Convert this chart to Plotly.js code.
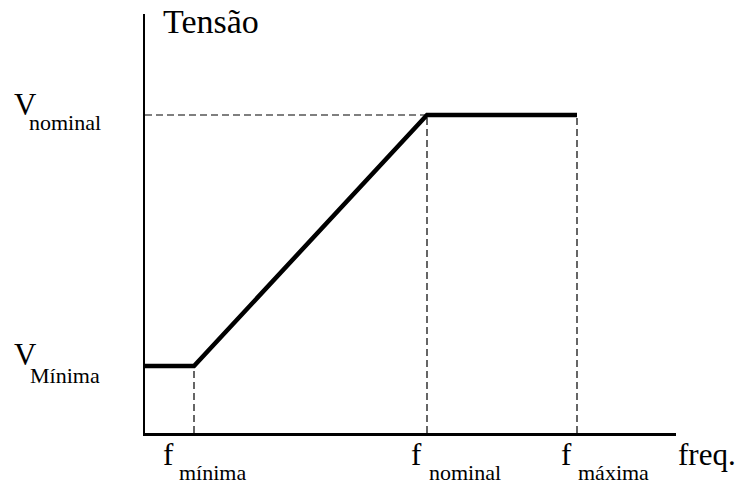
<!DOCTYPE html>
<html>
<head>
<meta charset="utf-8">
<script src="https://cdn.plot.ly/plotly-3.0.1.min.js"></script>
<style>html,body{margin:0;padding:0;background:#fff;}#chart{width:737px;height:484px;}</style>
</head>
<body>
<div id="chart"></div>
<script>
// Data (units: arbitrary)
var freqPoints = [0, 49, 282, 432];      // 0, f mínima, f nominal, f máxima
var voltPoints = [67, 67, 318, 318];     // V Mínima, V Mínima, V nominal, V nominal
var fMin = 49, fNom = 282, fMax = 432;
var vMin = 67, vNom = 318;
var yAxisLabel = "Tensão";
var xAxisLabel = "freq.";
var vLabels = ["nominal", "Mínima"];
var fLabels = ["mínima", "nominal", "máxima"];

var X_RANGE = [0, 531], Y_RANGE = [0, 419];
var serif = "Liberation Serif, Times New Roman, serif";
var dashStyle = "7px,4px";

var traces = [
  {x: [0, fNom], y: [vNom, vNom], mode: "lines", line: {color: "#000", width: 1.2, dash: dashStyle}, hoverinfo: "skip"},
  {x: [fMin, fMin], y: [0, vMin], mode: "lines", line: {color: "#000", width: 1.2, dash: dashStyle}, hoverinfo: "skip"},
  {x: [fNom, fNom], y: [0, vNom], mode: "lines", line: {color: "#000", width: 1.2, dash: dashStyle}, hoverinfo: "skip"},
  {x: [fMax, fMax], y: [0, vNom], mode: "lines", line: {color: "#000", width: 1.2, dash: dashStyle}, hoverinfo: "skip"},
  {x: freqPoints, y: voltPoints, mode: "lines", line: {color: "#000", width: 4.5}, hoverinfo: "skip"}
];

// annotation positioned in axis units but via paper refs (so it may sit outside the plot area)
function ann(text, x, y, size) {
  return {text: text, x: x / X_RANGE[1], y: y / Y_RANGE[1], xref: "paper", yref: "paper",
          xanchor: "left", yanchor: "middle", showarrow: false, borderpad: 0,
          font: {family: serif, size: size, color: "#000"}};
}

var annotations = [
  ann(yAxisLabel, 17, 412, 34),
  ann("V", -132, vNom + 10.5, 31),
  ann(vLabels[0], -117, vNom - 8, 22),
  ann("V", -132, vMin + 11.5, 31),
  ann(vLabels[1], -116, vMin - 9, 22),
  ann("f", fMin - 32, -21.5, 31),
  ann(fLabels[0], fMin - 16, -39.5, 22),
  ann("f", fNom - 17, -21.5, 31),
  ann(fLabels[1], fNom + 1, -39.5, 22),
  ann("f", fMax - 17, -21.5, 31),
  ann(fLabels[2], fMax, -39.5, 22),
  ann(xAxisLabel, 532, -21.5, 31)
];

var layout = {
  width: 737, height: 484,
  margin: {l: 145, r: 61, t: 14, b: 51, pad: 0},
  paper_bgcolor: "#fff", plot_bgcolor: "#fff",
  showlegend: false,
  xaxis: {range: X_RANGE, showgrid: false, zeroline: false, showticklabels: false, ticks: "",
          showline: true, linecolor: "#000", linewidth: 2.5, fixedrange: true},
  yaxis: {range: Y_RANGE, showgrid: false, zeroline: false, showticklabels: false, ticks: "",
          showline: true, linecolor: "#000", linewidth: 2.5, fixedrange: true},
  annotations: annotations
};

Plotly.newPlot("chart", traces, layout, {displayModeBar: false, staticPlot: true});
</script>
</body>
</html>
